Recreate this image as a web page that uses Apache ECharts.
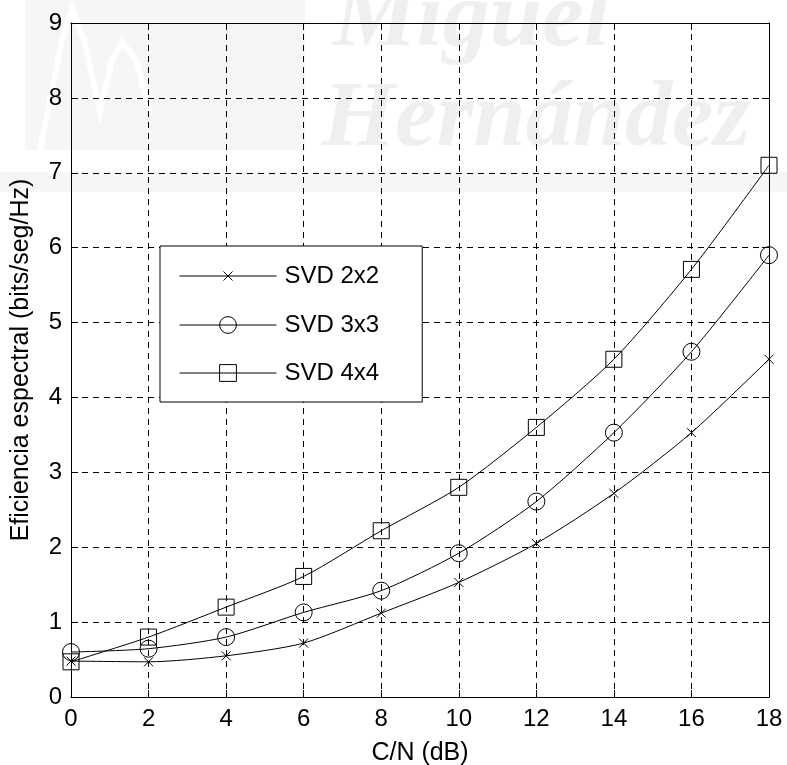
<!DOCTYPE html>
<html>
<head>
<meta charset="utf-8">
<script src="https://cdn.jsdelivr.net/npm/echarts@6/dist/echarts.min.js"></script>
<style>
  html, body { margin: 0; padding: 0; background: #ffffff; }
  #chart { width: 787px; height: 765px; }
</style>
</head>
<body>
<div id="chart"></div>
<script>
// C/N in dB (x axis)
const snrDb = [0, 2, 4, 6, 8, 10, 12, 14, 16, 18];

// Spectral efficiency (bits/seg/Hz) for each SVD MIMO configuration
const svd2x2 = [0.48, 0.47, 0.55, 0.72, 1.12, 1.53, 2.05, 2.72, 3.53, 4.51];
const svd3x3 = [0.60, 0.645, 0.80, 1.13, 1.42, 1.92, 2.61, 3.53, 4.61, 5.90];
const svd4x4 = [0.47, 0.80, 1.20, 1.61, 2.22, 2.80, 3.60, 4.51, 5.71, 7.10];

const seriesNames = ['SVD 2x2', 'SVD 3x3', 'SVD 4x4'];

// Axis ranges and tick steps
const xRange = { min: 0, max: 18, step: 2 };
const yRange = { min: 0, max: 9, step: 1 };

const FONT = '"Liberation Sans", Arial, Helvetica, sans-serif';
const WM_FONT = 'italic bold 94px "Liberation Serif", "DejaVu Serif", serif';
const WM_COLOR = '#efefef';

function pairs(xs, ys) {
  return xs.map((x, i) => [x, ys[i]]);
}

const crossSymbol = 'path://M0,0L10,10M10,0L0,10';
// legend icon for the cross series: line with a small cross in the middle (97 x 21 box)
const crossLegendIcon = 'path://M0,0L0,0M0,10.5L97,10.5M44,6L53,15M53,6L44,15M97,21L97,21';

const markerStyle = { color: 'none', borderColor: '#000', borderWidth: 1 };
const lineStyle = { color: '#000', width: 1 };

const dashedGrid = { show: true, lineStyle: { color: '#000', width: 1, type: [6, 5] } };

function axisBase(range) {
  return {
    type: 'value',
    min: range.min,
    max: range.max,
    interval: range.step,
    axisLine: { show: true, onZero: false, lineStyle: { color: '#000', width: 1 } },
    axisTick: { show: true, inside: true, length: 7, lineStyle: { color: '#000', width: 1 } }
  };
}

const chart = echarts.init(document.getElementById('chart'), null, { renderer: 'canvas' });

chart.setOption({
  backgroundColor: '#ffffff',
  animation: false,
  graphic: [
    // faint institutional watermark behind the plot
    { type: 'rect', z: -10, shape: { x: 0, y: 172, width: 787, height: 20 }, style: { fill: '#f6f6f6' } },
    { type: 'rect', z: -10, shape: { x: 25, y: 0, width: 280, height: 150 }, style: { fill: '#f6f6f6' } },
    { type: 'polyline', z: -9, shape: { points: [[40, 150], [62, 40], [72, 8], [84, 40], [100, 112], [112, 60], [122, 42], [136, 60], [150, 112]] },
      style: { stroke: '#ffffff', lineWidth: 6, fill: null } },
    { type: 'text', z: -9, x: 333, y: -26, style: { text: 'Miguel', fill: WM_COLOR, font: WM_FONT } },
    { type: 'text', z: -9, x: 322, y: 74, style: { text: 'Hernández', fill: WM_COLOR, font: WM_FONT } }
  ],
  grid: { left: 71, right: 18, top: 23, bottom: 68, containLabel: false, outerBoundsMode: 'none' },
  legend: {
    orient: 'vertical',
    left: 160,
    top: 246,
    padding: [17, 43, 17, 17],
    itemWidth: 97,
    itemHeight: 21,
    itemGap: 24,
    backgroundColor: '#ffffff',
    borderColor: '#000',
    borderWidth: 1,
    borderRadius: 0,
    z: 20,
    selectedMode: false,
    lineStyle: { width: 1, color: '#000' },
    itemStyle: markerStyle,
    textStyle: { fontFamily: FONT, fontSize: 24, color: '#000', padding: [0, 0, 0, 3] },
    data: [
      { name: seriesNames[0], icon: crossLegendIcon, itemStyle: markerStyle },
      { name: seriesNames[1] },
      { name: seriesNames[2] }
    ]
  },
  xAxis: [
    Object.assign(axisBase(xRange), {
      position: 'bottom',
      name: 'C/N (dB)',
      nameLocation: 'middle',
      nameGap: 44,
      nameTextStyle: { fontFamily: FONT, fontSize: 25, color: '#000' },
      axisLabel: { fontFamily: FONT, fontSize: 24, color: '#000', margin: 10 },
      splitLine: dashedGrid
    }),
    Object.assign(axisBase(xRange), {
      position: 'top',
      axisLabel: { show: false },
      splitLine: { show: false }
    })
  ],
  yAxis: [
    Object.assign(axisBase(yRange), {
      position: 'left',
      name: 'Eficiencia espectral (bits/seg/Hz)',
      nameLocation: 'middle',
      nameGap: 37,
      nameTextStyle: { fontFamily: FONT, fontSize: 25, color: '#000' },
      axisLabel: { fontFamily: FONT, fontSize: 24, color: '#000', margin: 9 },
      splitLine: dashedGrid
    }),
    Object.assign(axisBase(yRange), {
      position: 'right',
      axisLabel: { show: false },
      splitLine: { show: false }
    })
  ],
  series: [
    {
      name: seriesNames[0], type: 'line', xAxisIndex: 0, yAxisIndex: 0,
      data: pairs(snrDb, svd2x2), smooth: 0.25,
      symbol: crossSymbol, symbolSize: 9,
      lineStyle: lineStyle, itemStyle: markerStyle, z: 5
    },
    {
      name: seriesNames[1], type: 'line', xAxisIndex: 0, yAxisIndex: 0,
      data: pairs(snrDb, svd3x3), smooth: 0.25,
      symbol: 'circle', symbolSize: 17,
      lineStyle: lineStyle, itemStyle: markerStyle, z: 5
    },
    {
      name: seriesNames[2], type: 'line', xAxisIndex: 0, yAxisIndex: 0,
      data: pairs(snrDb, svd4x4), smooth: 0.25,
      symbol: 'rect', symbolSize: 16,
      lineStyle: lineStyle, itemStyle: markerStyle, z: 5
    }
  ]
});
</script>
</body>
</html>
